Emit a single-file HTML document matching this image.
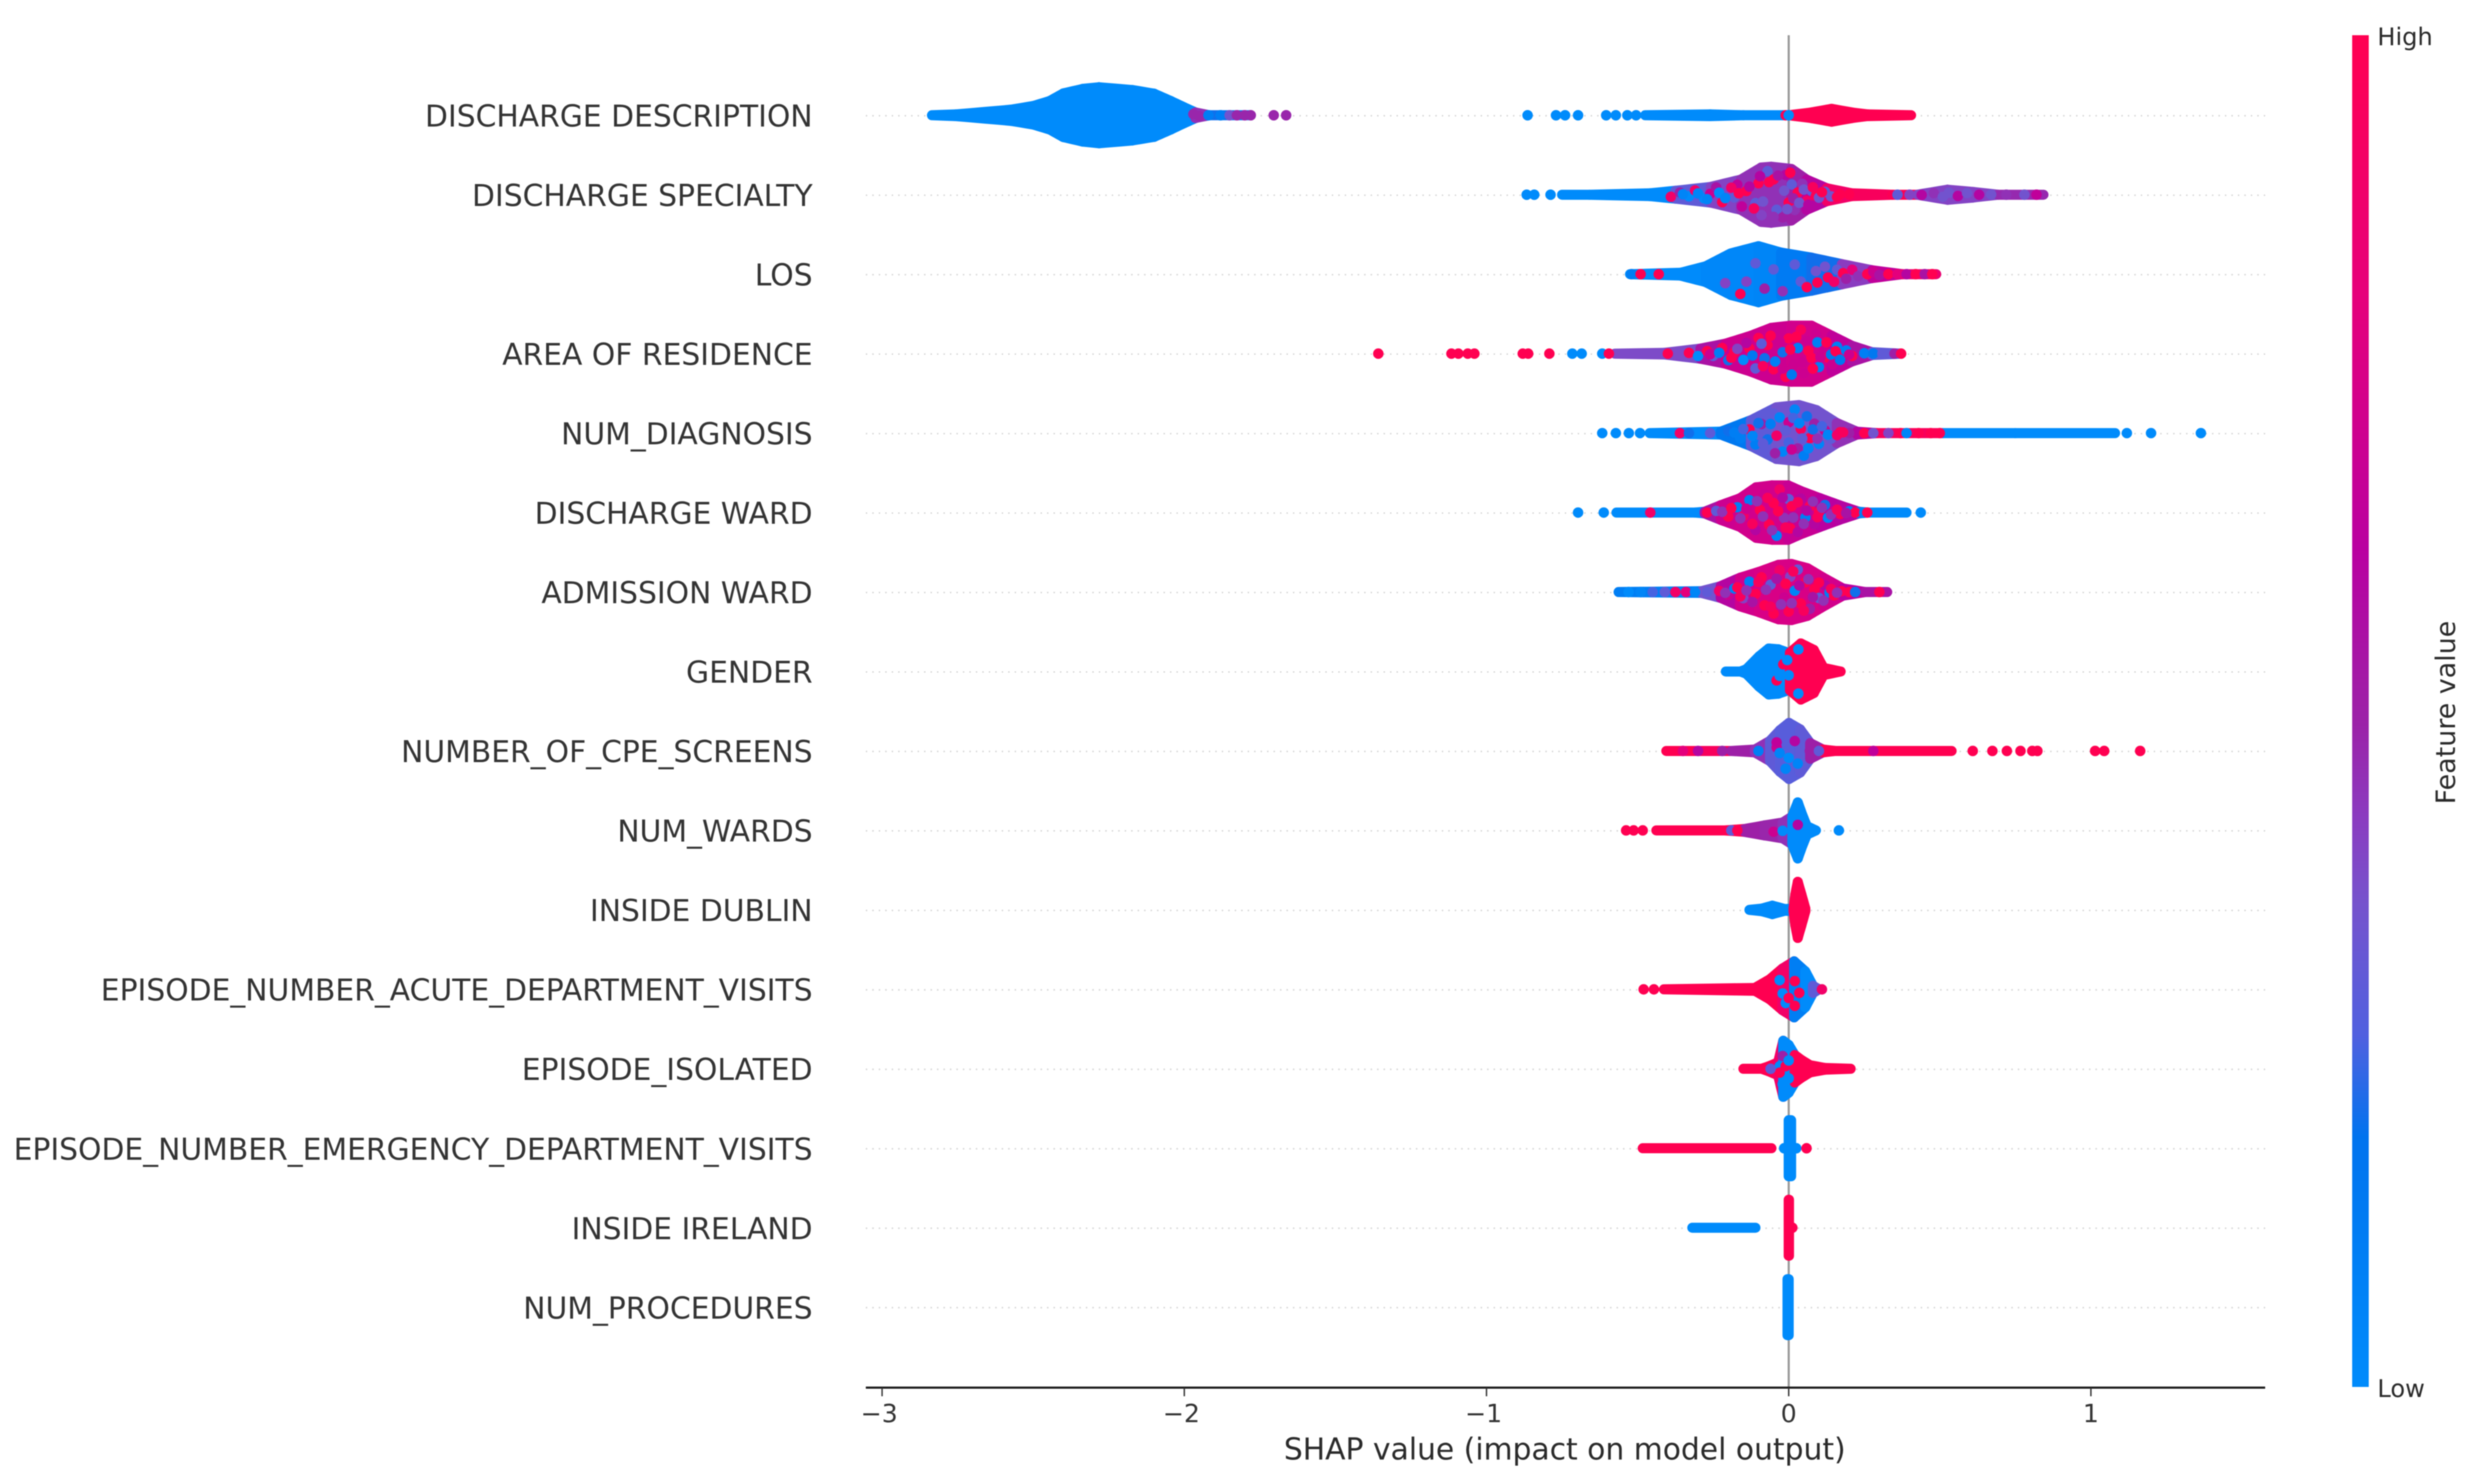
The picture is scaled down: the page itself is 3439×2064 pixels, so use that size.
<!DOCTYPE html>
<html lang="en">
<head>
<meta charset="utf-8">
<title>SHAP summary beeswarm</title>
<style>
html,body{margin:0;padding:0;background:#fff;}
svg{display:block;font-family:"DejaVu Sans","Liberation Sans",sans-serif;filter:blur(0.7px);}
</style>
</head>
<body>
<svg id="chart" xmlns="http://www.w3.org/2000/svg" width="3439" height="2064" viewBox="0 0 3439 2064">
  <rect x="0" y="0" width="3439" height="2064" fill="#ffffff"/>
  <defs>
    <linearGradient id="tone-gradient" x1="0" y1="1" x2="0" y2="0"></linearGradient>
  </defs>
  <g id="guides"></g>
  <line x1="2487.4" y1="49" x2="2487.4" y2="1930" stroke="#999999" stroke-width="3"/>
  <g id="swarms"></g>
  <g id="labels"></g>
  <line x1="1204" y1="1930" x2="3150" y2="1930" stroke="#1a1a1a" stroke-width="3"/>
  <g id="ticks"></g>
  <text x="2176" y="2030" font-size="41.4" fill="#2a2a2a" text-anchor="middle">SHAP value (impact on model output)</text>
  <rect x="3271" y="49" width="23" height="1880" fill="url(#tone-gradient)"/>
  <text x="3306" y="63" font-size="33.5" fill="#2a2a2a">High</text>
  <text x="3306" y="1943" font-size="33.5" fill="#2a2a2a">Low</text>
  <text transform="translate(3414 991) rotate(-90)" font-size="37.4" fill="#2a2a2a" text-anchor="middle">Feature value</text>
</svg>
<script>
/* ---------- categories and axis labels ---------- */
const categories = ["DISCHARGE DESCRIPTION","DISCHARGE SPECIALTY","LOS","AREA OF RESIDENCE","NUM_DIAGNOSIS","DISCHARGE WARD","ADMISSION WARD","GENDER","NUMBER_OF_CPE_SCREENS","NUM_WARDS","INSIDE DUBLIN","EPISODE_NUMBER_ACUTE_DEPARTMENT_VISITS","EPISODE_ISOLATED","EPISODE_NUMBER_EMERGENCY_DEPARTMENT_VISITS","INSIDE IRELAND","NUM_PROCEDURES"];
const tickValues = [-3,-2,-1,0,1];
const tickLabels = ["\u22123","\u22122","\u22121","0","1"];

/* ---------- colour scale: feature value (0..1) to colour ---------- */
const toneStops = [0,0.185,0.26,0.36,0.42,0.49,0.62,0.81,1];
const toneColors = [[0,139,251],[0,115,238],[80,96,223],[118,82,204],[138,60,192],[155,34,168],[185,0,160],[230,0,122],[255,0,81]];

/* ---------- swarm outlines: SHAP value, pile height (0..100), feature value ---------- */
const descLowShap = [-2.835,-2.755,-2.573,-2.5,-2.445,-2.4,-2.336,-2.282,-2.172,-2.1,-2.045,-2,-1.963,-1.917,-1.78];
const descLowPile = [0,3,20,33,51,78,94,100,90,77,51,28,10,0,0];
const descLowTone = [0,0,0,0,0,0,0,0,0,0,0,0,0.45,0.2,0.45];
const descHighShap = [-0.475,-0.26,-0.15,-0.02,0,0.075,0.142,0.209,0.26,0.405];
const descHighPile = [0,3,0,0,0,10,23,10,3,0];
const descHighTone = [0,0,0,0,1,1,1,1,1,1];

const specialtyShap = [-0.75,-0.659,-0.459,-0.375,-0.258,-0.158,-0.091,-0.058,0.009,0.059,0.126,0.209,0.343,0.426,0.526,0.61,0.693,0.843];
const specialtyPile = [0,0,5,14,28,54,97,100,92,54,23,5,0,0,18,10,0,0];
const specialtyTone = [0,0,0,0.3,0.4,0.45,0.45,0.45,0.5,0.6,0.9,0.95,0.98,0.4,0.4,0.4,0.47,0.47];

const losShap = [-0.525,-0.358,-0.275,-0.192,-0.1,-0.025,0.075,0.176,0.276,0.376,0.488];
const losPile = [0,5,28,74,100,77,59,36,14,0,0];
const losTone = [0,0,0.03,0.03,0.05,0.12,0.2,0.42,0.65,0.85,0.85];

const residenceShap = [-0.575,-0.41,-0.292,-0.208,-0.125,-0.058,0.009,0.075,0.142,0.209,0.276,0.372];
const residencePile = [0,3,18,36,64,92,100,100,64,28,5,0];
const residenceTone = [0.38,0.38,0.55,0.7,0.7,0.7,0.72,0.72,0.65,0.55,0.3,0.35];

const diagnosisShap = [-0.46,-0.225,-0.125,-0.041,0.034,0.092,0.159,0.226,0.293,0.51,0.75,1.08];
const diagnosisPile = [0,5,46,92,100,82,36,5,0,0,0,0];
const diagnosisTone = [0,0.15,0.3,0.35,0.35,0.35,0.45,0.6,0.95,0,0,0];

const dischargeWardShap = [-0.57,-0.31,-0.278,-0.225,-0.161,-0.108,-0.055,-0.002,0.04,0.104,0.168,0.232,0.263,0.39];
const dischargeWardPile = [0,0,3,26,51,90,97,97,77,51,26,3,0,0];
const dischargeWardTone = [0,0,0.55,0.7,0.72,0.72,0.72,0.68,0.68,0.62,0.6,0.1,0,0];

const admissionWardShap = [-0.563,-0.289,-0.225,-0.161,-0.098,-0.034,0.009,0.062,0.115,0.179,0.253,0.326];
const admissionWardPile = [0,3,21,51,72,97,100,85,51,13,0,0];
const admissionWardTone = [0.1,0.35,0.6,0.72,0.75,0.75,0.75,0.75,0.72,0.62,0.55,0.55];

const genderShap = [-0.208,-0.16,-0.14,-0.098,-0.066,-0.034,-0.002,0.004,0.04,0.083,0.115,0.172];
const genderPile = [0,0,8,54,82,79,67,67,100,77,13,0];
const genderTone = [0,0,0,0,0,0,0,1,1,1,1,1];

const cpeShap = [-0.405,-0.3,-0.19,-0.112,-0.062,-0.029,0.001,0.038,0.071,0.113,0.155,0.539];
const cpePile = [0,0,0,5,36,74,100,77,28,5,0,0];
const cpeTone = [1,0.95,0.5,0.45,0.3,0.28,0.28,0.3,0.5,1,1,1];

const numWardsShap = [-0.438,-0.212,-0.146,-0.079,-0.02,0.012,0.03,0.045,0.06,0.09];
const numWardsPile = [0,0,5,18,28,50,100,55,15,0];
const numWardsTone = [1,1,0.5,0.48,0.45,0,0,0,0,0];

const dublinShap = [-0.13,-0.087,-0.054,-0.012,0.016,0.022,0.03,0.042,0.055];
const dublinPile = [0,5,15,3,5,55,100,55,5];
const dublinTone = [0,0,0,0,1,1,1,1,1];

const acuteShap = [-0.413,-0.112,-0.062,-0.021,0.018,0.055,0.08,0.1];
const acutePile = [0,5,36,74,100,64,13,0];
const acuteTone = [1,1,1,0.9,0.1,0,0.3,0.3];

const isolatedShap = [-0.15,-0.09,-0.068,-0.035,-0.018,0,0.02,0.04,0.07,0.12,0.205];
const isolatedPile = [0,0,8,23,100,85,49,33,13,3,0];
const isolatedTone = [1,1,1,0.9,0,0,1,1,1,1,1];

const emergencyHighShap = [-0.483,-0.057];
const emergencyHighPile = [0,0];
const emergencyHighTone = [1,1];
const emergencyLowShap = [0,0.008];
const emergencyLowPile = [100,100];
const emergencyLowTone = [0,0];

const irelandLowShap = [-0.319,-0.11];
const irelandLowPile = [0,0];
const irelandLowTone = [0,0];
const irelandHighShap = [0,0.001];
const irelandHighPile = [100,100];
const irelandHighTone = [1,1];

const proceduresShap = [-0.004,0];
const proceduresPile = [100,100];
const proceduresTone = [0,0];

/* ---------- individually visible dots: [SHAP value, lift inside the pile (-1..1), feature value] ---------- */
const descDots = [[-1.97,0.3,0.48],[-1.95,-0.4,0.48],[-1.92,0,0.1],[-1.88,0,0.1],[-1.85,0,0.35],[-1.826,0,0.48],[-1.8,0,0.48],[-1.78,0,0.48],[-1.704,0,0.48],[-1.663,0,0.48],[-0.864,0,0],[-0.77,0,0],[-0.74,0,0],[-0.697,0,0],[-0.604,0,0],[-0.572,0,0],[-0.534,0,0],[-0.505,0,0],[-0.01,0,1],[0,0,0]];
const specialtyDots = [[-0.867,0,0],[-0.842,0,0],[-0.788,0,0],[-0.42,0.2,0],[-0.39,-0.6,0.9],[-0.36,0.5,0.5],[-0.33,-0.3,0],[-0.31,0.7,0.9],[-0.28,-0.5,0],[-0.26,0.1,0.7],[-0.24,0.8,0.55],[-0.22,-0.7,1],[-0.2,0.3,0.4],[-0.18,-0.2,0.3],[-0.17,0.7,0.65],[-0.15,-0.6,0.45],[-0.14,0.2,1],[-0.125,0.8,0.45],[-0.11,-0.35,0.3],[-0.1,0.45,1],[-0.09,-0.75,0.4],[-0.08,0.1,0.45],[-0.07,0.85,0.3],[-0.06,-0.15,0.45],[-0.05,0.55,1],[-0.04,-0.55,0.3],[-0.03,0.25,0.45],[-0.02,-0.85,0.5],[-0.01,0.75,0.6],[0,-0.3,1],[0.01,0.4,0.3],[0.02,-0.65,0.45],[0.03,0.1,1],[0.045,0.6,0.45],[0.06,-0.4,0.9],[0.075,0.3,0.3],[0.09,-0.1,1],[0.12,0.4,0.3],[0.14,-0.3,0.35],[0.17,0.1,1],[0.36,0,0.3],[0.4,0.2,0.4],[0.44,-0.3,0.6],[0.48,0.6,0.45],[0.51,-0.5,0.35],[0.53,0.4,0.35],[0.56,-0.3,0.6],[0.59,0.5,0.35],[0.63,0,0.6],[0.67,0.3,0.35],[0.72,0,0.45],[0.78,0,0.35],[0.82,0,0.65]];
const specialtyMoreDots = [[-0.35,0.1,0.05],[-0.3,0.2,0.05],[-0.27,-0.6,0.05],[-0.23,0.2,0],[-0.21,-0.3,0.05],[-0.19,0.55,0.9],[-0.165,0.1,1],[-0.155,-0.75,0.65],[-0.13,0.4,0.6],[-0.115,-0.6,0.95],[-0.095,0.7,0.6],[-0.085,-0.25,0.35],[-0.065,0.45,1],[-0.05,-0.8,0.45],[-0.035,0.7,0.55],[-0.015,0.15,0.35],[-0.005,-0.55,0.35],[0.005,0.85,1],[0.015,-0.15,0.5],[0.035,-0.4,0.35],[0.05,0.3,0.35],[0.065,-0.7,0.6],[0.08,0.6,0.95],[0.1,-0.3,0.35],[0.11,0.3,1],[0.16,-0.5,1],[0.2,0.2,1],[0.24,0,0.95]];
const losDots = [[-0.52,0,0.1],[-0.49,0,1],[-0.43,0,1],[-0.21,-0.5,0.4],[-0.16,-0.85,1],[-0.14,-0.3,0.4],[-0.11,0.4,0.3],[-0.08,-0.55,0.5],[-0.05,0.2,0.3],[-0.02,-0.8,0.45],[0.02,0.5,0.3],[0.04,-0.4,0.3],[0.06,-0.75,1],[0.09,0.2,0.35],[0.095,-0.55,1],[0.12,0.55,0.35],[0.13,-0.25,1],[0.15,-0.65,0.9],[0.16,0.4,0.3],[0.18,0.1,1],[0.19,-0.5,0.5],[0.21,0.55,0.8],[0.23,-0.3,0.45],[0.26,0,1],[0.28,0.6,0.7],[0.3,-0.3,0.55],[0.33,0,1],[0.36,0.2,0.8],[0.39,0,0.6],[0.42,0,1],[0.45,0,0.55],[0.475,0,1]];
const residenceDots = [[-1.358,0,1],[-1.116,0,1],[-1.093,0,1],[-1.062,0,1],[-1.04,0,1],[-0.88,0,1],[-0.862,0,1],[-0.792,0,1],[-0.716,0,0],[-0.685,0,0],[-0.617,0,0],[-0.595,0,1],[-0.4,0,1],[-0.33,0.2,1],[-0.3,-0.5,0],[-0.27,0.4,1],[-0.25,-0.3,0.3],[-0.22,0.6,1],[-0.2,-0.6,0.2],[-0.18,0.1,1],[-0.16,0.7,0.7],[-0.15,-0.4,0],[-0.13,0.3,1],[-0.11,-0.75,0.3],[-0.1,0.75,1],[-0.08,-0.2,0.2],[-0.07,0.35,1],[-0.05,-0.6,1],[-0.04,0.85,0.7],[-0.02,0.05,0.2],[-0.01,-0.85,1],[0,0.55,1],[0.015,-0.4,0.7],[0.03,0.2,0.1],[0.04,0.85,0.95],[0.05,-0.7,0.7],[0.06,0.45,0.7],[0.075,-0.15,1],[0.09,0.75,0.7],[0.1,-0.55,0.1],[0.115,0.25,0.7],[0.13,-0.2,1],[0.145,-0.6,0.7],[0.16,0.45,0.1],[0.175,-0.1,0.8],[0.19,0.3,0.1],[0.21,-0.3,1],[0.25,0.1,0.1],[0.28,0,0.15],[0.31,0,0.3],[0.35,0,0.5],[0.372,0,1]];
const residenceMoreDots = [[-0.26,-0.1,0.7],[-0.23,0.1,0.1],[-0.19,-0.35,1],[-0.17,0.35,0.4],[-0.14,0.65,0.6],[-0.12,-0.1,0.15],[-0.09,0.45,0.3],[-0.085,-0.55,0.95],[-0.06,0.7,1],[-0.045,-0.3,0.1],[-0.03,0.45,0.7],[-0.02,-0.55,0.7],[0.005,0.15,1],[0.01,-0.75,0.15],[0.025,0.6,1],[0.045,-0.3,0.7],[0.065,0.1,1],[0.08,-0.55,1],[0.095,0.45,0.1],[0.105,-0.15,0.7],[0.125,0.55,1],[0.14,-0.05,0.15],[0.155,0.15,1],[0.17,-0.45,0.15],[0.2,-0.1,0.7]];
const diagnosisDots = [[-0.617,0,0],[-0.572,0,0],[-0.529,0,0],[-0.492,0,0],[-0.36,0,0.9],[-0.33,0,0.2],[-0.26,0,0.3],[-0.2,0.5,0.2],[-0.16,-0.6,0.1],[-0.13,0.3,1],[-0.11,-0.75,0.1],[-0.09,0.5,0.5],[-0.07,-0.3,0.2],[-0.05,0.8,0.3],[-0.04,-0.1,0.9],[-0.02,-0.7,0.05],[0,0.4,0.7],[0,-0.35,0.25],[0.02,0.85,0.05],[0.03,-0.55,0.5],[0.04,0.15,0.95],[0.05,-0.85,0.1],[0.06,0.65,0.2],[0.07,-0.2,1],[0.085,0.4,0.5],[0.1,-0.5,0.05],[0.12,0.15,0.7],[0.14,-0.4,0.3],[0.17,0.1,1],[0.2,0,0.5],[0.25,0,1],[0.28,0,0.35],[0.33,0,0.4],[0.37,0,1],[0.39,0,0.05],[0.43,0,1],[0.47,0,1],[0.5,0,1],[1.119,0,0],[1.199,0,0],[1.364,0,0]];
const diagnosisMoreDots = [[-0.18,0.1,0.1],[-0.15,0.4,0.25],[-0.12,-0.2,0.05],[-0.1,0.6,0.2],[-0.085,-0.55,0.3],[-0.06,0.4,0.1],[-0.045,-0.8,0.5],[-0.03,0.6,0.05],[-0.01,0.1,0.3],[0.01,-0.6,0.7],[0.015,0.55,0.25],[0.035,0.35,0.05],[0.045,-0.2,0.3],[0.065,-0.6,0.05],[0.08,0.15,0.2],[0.095,-0.25,0.45],[0.11,0.35,0.25],[0.13,-0.1,0.05],[0.16,-0.2,0.9],[0.18,0.1,0.95]];
const dischargeWardDots = [[-0.697,0,0],[-0.612,0,0],[-0.458,0,0.9],[-0.27,0,1],[-0.24,0.3,0.3],[-0.2,-0.4,1],[-0.17,0.4,0.1],[-0.15,-0.2,0.9],[-0.13,0.6,0.1],[-0.11,-0.7,0.6],[-0.095,0.1,1],[-0.08,0.7,0.7],[-0.065,-0.45,1],[-0.05,0.35,1],[-0.04,-0.85,0.05],[-0.03,0.85,0.9],[-0.015,-0.2,0.45],[0,0.5,0.3],[0.005,-0.6,1],[0.02,0.15,0.7],[0.03,-0.85,0.6],[0.04,0.65,0.6],[0.055,-0.25,0.1],[0.07,0.35,1],[0.085,-0.7,0.6],[0.1,0.05,1],[0.12,0.6,0.2],[0.13,-0.45,0.05],[0.15,0.1,0.7],[0.17,-0.2,1],[0.2,0.3,0.1],[0.22,0,1],[0.25,0,0.1],[0.26,0,1],[0.437,0,0]];
const dischargeWardMoreDots = [[-0.22,0.1,0.45],[-0.19,0.4,1],[-0.16,-0.4,0.45],[-0.14,0.2,0.7],[-0.12,-0.5,0.95],[-0.105,0.45,0.45],[-0.085,-0.15,0.45],[-0.07,0.55,0.95],[-0.055,-0.65,0.45],[-0.035,0.05,1],[-0.02,0.55,0.6],[-0.01,-0.55,0.95],[0.01,0.25,1],[0.015,-0.2,0.45],[0.03,0.45,0.95],[0.05,-0.55,0.45],[0.06,0.1,0.6],[0.08,0.65,0.45],[0.095,-0.3,0.95],[0.11,0.35,0.45],[0.14,-0.2,0.45],[0.16,0.35,0.95],[0.19,-0.1,0.55]];
const admissionWardDots = [[-0.53,0,0],[-0.49,0,0.05],[-0.45,0,0.25],[-0.41,0,0.3],[-0.375,0,0.9],[-0.34,0,0.8],[-0.31,0,0.05],[-0.27,0,0.3],[-0.23,0.2,0.9],[-0.2,-0.3,0.7],[-0.18,0.3,0.1],[-0.15,-0.4,0.4],[-0.13,0.6,0.1],[-0.11,-0.1,1],[-0.09,0.7,1],[-0.08,-0.6,1],[-0.06,0.3,0.3],[-0.05,-0.85,1],[-0.03,0.8,0.9],[-0.015,-0.2,0.7],[0,-0.7,1],[0.005,0.55,0.4],[0.02,0.05,0.05],[0.03,0.85,0.3],[0.04,-0.45,1],[0.055,0.4,1],[0.07,-0.75,0.5],[0.085,0.15,1],[0.1,-0.35,0.3],[0.12,0.5,0.6],[0.135,-0.05,0.1],[0.15,-0.4,1],[0.175,0.2,1],[0.2,0,1],[0.22,0,0.2],[0.3,0,1]];
const admissionWardMoreDots = [[-0.21,-0.1,0.45],[-0.17,0.35,1],[-0.16,-0.3,0.95],[-0.14,0.1,0.45],[-0.12,-0.55,0.55],[-0.1,0.5,0.95],[-0.075,0.1,0.45],[-0.06,-0.6,0.95],[-0.04,0.5,0.55],[-0.025,-0.45,0.45],[-0.01,0.3,1],[0.01,-0.4,0.45],[0.015,0.75,0.95],[0.035,0.25,0.6],[0.05,-0.75,0.95],[0.065,0.55,0.45],[0.08,-0.25,0.55],[0.1,0.55,1],[0.115,-0.6,0.45],[0.14,0.3,0.95],[0.16,-0.1,0.45]];
const genderDots = [[-0.018,0.35,1],[-0.04,-0.4,1],[-0.03,-0.2,0],[0.032,0.85,0],[0.032,-0.85,0],[0,-0.2,0],[-0.005,0.6,0]];
const cpeDots = [[-0.35,0,0.8],[-0.3,0,0.6],[-0.22,0,0.5],[-0.1,0,0.1],[-0.04,0.2,0.7],[-0.03,-0.1,0.05],[-0.04,0.5,0.65],[0,-0.25,0],[0.02,0.4,0.6],[-0.01,-0.7,0.05],[0.03,-0.55,0.05],[0.07,0,0.5],[0.1,0,0.3],[0.28,0,0.65],[0.609,0,1],[0.674,0,1],[0.722,0,1],[0.767,0,1],[0.806,0,1],[0.823,0,1],[1.014,0,1],[1.044,0,1],[1.163,0,1]];
const numWardsDots = [[-0.538,0,1],[-0.513,0,1],[-0.483,0,1],[-0.19,0,0.3],[-0.17,0,1],[-0.05,-0.2,0.7],[-0.02,-0.05,0],[0.03,0.2,0.6],[0.166,0,0]];
const dublinDots = [[0.02,-0.1,1]];
const acuteDots = [[-0.48,0,1],[-0.446,0,1],[-0.03,0.5,0],[-0.02,-0.2,0],[-0.01,-0.6,0],[0,-0.35,1],[0.02,-0.6,1],[0.02,0.3,1],[0.035,-0.15,1],[0.1,0,0.3],[0.11,0,0.9]];
const isolatedDots = [[-0.03,0.2,0],[-0.03,-0.3,1],[-0.02,0.5,0.5],[-0.02,-0.6,0],[-0.01,0.1,1],[0,0.35,0],[0,-0.4,0],[-0.06,0,0.3]];
const emergencyDots = [[-0.015,0,0],[0.025,0,0],[0.059,0,1]];
const irelandDots = [[0.012,0,1]];

/* ---------- wiring: which arrays belong to which row ---------- */
const swarmRows = [0,0,1,2,3,4,5,6,7,8,9,10,11,12,13,13,14,14,15];
const swarmShap = [descLowShap,descHighShap,specialtyShap,losShap,residenceShap,diagnosisShap,dischargeWardShap,admissionWardShap,genderShap,cpeShap,numWardsShap,dublinShap,acuteShap,isolatedShap,emergencyHighShap,emergencyLowShap,irelandLowShap,irelandHighShap,proceduresShap];
const swarmPile = [descLowPile,descHighPile,specialtyPile,losPile,residencePile,diagnosisPile,dischargeWardPile,admissionWardPile,genderPile,cpePile,numWardsPile,dublinPile,acutePile,isolatedPile,emergencyHighPile,emergencyLowPile,irelandLowPile,irelandHighPile,proceduresPile];
const swarmTone = [descLowTone,descHighTone,specialtyTone,losTone,residenceTone,diagnosisTone,dischargeWardTone,admissionWardTone,genderTone,cpeTone,numWardsTone,dublinTone,acuteTone,isolatedTone,emergencyHighTone,emergencyLowTone,irelandLowTone,irelandHighTone,proceduresTone];
const dotRows = [0,1,1,2,3,3,4,4,5,5,6,6,7,8,9,10,11,12,13,14];
const dotSets = [descDots,specialtyDots,specialtyMoreDots,losDots,residenceDots,residenceMoreDots,diagnosisDots,diagnosisMoreDots,dischargeWardDots,dischargeWardMoreDots,admissionWardDots,admissionWardMoreDots,genderDots,cpeDots,numWardsDots,dublinDots,acuteDots,isolatedDots,emergencyDots,irelandDots];

/* ---------- axis functions ---------- */
function xScale(v){ return 2487.4 + 420.25 * v; }
function yScale(i){ return 161 + 110.52 * i; }
function pileScale(p){ return p * 0.39; }
function toneColor(t){
  const c = Math.max(0, Math.min(1, t));
  let k = 0;
  while (k < toneStops.length - 2 && c > toneStops[k + 1]) k++;
  const f = (c - toneStops[k]) / (toneStops[k + 1] - toneStops[k]);
  const a = toneColors[k], b = toneColors[k + 1];
  return 'rgb(' + Math.round(a[0] + (b[0] - a[0]) * f) + ',' + Math.round(a[1] + (b[1] - a[1]) * f) + ',' + Math.round(a[2] + (b[2] - a[2]) * f) + ')';
}
function pileAt(row, v){
  for (let s = 0; s < swarmRows.length; s++) {
    if (swarmRows[s] !== row) continue;
    const xs = swarmShap[s], ps = swarmPile[s];
    for (let i = 0; i < xs.length - 1; i++) {
      if (v >= xs[i] && v <= xs[i + 1]) {
        const span = xs[i + 1] - xs[i];
        const f = span > 0 ? (v - xs[i]) / span : 0;
        return ps[i] + (ps[i + 1] - ps[i]) * f;
      }
    }
  }
  return 0;
}

const NS = 'http://www.w3.org/2000/svg';
function make(tag, parent, attrs){
  const el = document.createElementNS(NS, tag);
  for (const key in attrs) el.setAttribute(key, attrs[key]);
  parent.appendChild(el);
  return el;
}

/* colourbar gradient */
const gradient = document.getElementById('tone-gradient');
toneStops.forEach(function(stop){
  make('stop', gradient, {offset: stop, 'stop-color': toneColor(stop)});
});

/* row guides and feature labels */
const guideLayer = document.getElementById('guides');
const labelLayer = document.getElementById('labels');
categories.forEach(function(name, i){
  const guide = make('line', guideLayer, {x1: 1204, x2: 3150, y1: yScale(i), y2: yScale(i), stroke: '#d4d4d4', 'stroke-width': 2, 'stroke-dasharray': '2 7'});
  
  
  const label = make('text', labelLayer, {x: 1130, y: yScale(i) + 15, 'font-size': 41.4, fill: '#333333', 'text-anchor': 'end'});
  label.textContent = name;
  
  
});

/* x ticks */
const tickLayer = document.getElementById('ticks');
tickValues.forEach(function(value, i){
  const mark = make('line', tickLayer, {x1: xScale(value), x2: xScale(value), y1: 1930, y2: 1942, stroke: '#333333', 'stroke-width': 2});
  
  
  const text = make('text', tickLayer, {x: xScale(value) - (value < 0 ? 4 : 0), y: 1978, 'font-size': 35, fill: '#333333', 'text-anchor': 'middle'});
  text.textContent = tickLabels[i];
  
  
});

/* swarm outlines */
const swarmLayer = document.getElementById('swarms');
swarmRows.forEach(function(row, s){
  const xs = swarmShap[s], ps = swarmPile[s], ts = swarmTone[s];
  const cy = yScale(row) - 0.7;
  for (let i = 0; i < xs.length - 1; i++) {
    const x0 = xScale(xs[i]), x1 = xScale(xs[i + 1]);
    const h0 = pileScale(ps[i]), h1 = pileScale(ps[i + 1]);
    const color = toneColor(ts[i]);
    const slice = make('polygon', swarmLayer, {
      points: x0 + ',' + (cy - h0) + ' ' + x1 + ',' + (cy - h1) + ' ' + x1 + ',' + (cy + h1) + ' ' + x0 + ',' + (cy + h0),
      fill: color, stroke: color, 'stroke-width': 14, 'stroke-linejoin': 'round'
    });
    
    
  }
});

/* individual dots */
dotRows.forEach(function(row, s){
  const cy = yScale(row) - 0.7;
  dotSets[s].forEach(function(d){
    const dot = make('circle', swarmLayer, {
      cx: xScale(d[0]),
      cy: cy - d[1] * pileScale(pileAt(row, d[0])),
      r: 7.3,
      fill: toneColor(d[2])
    });
    
    
  });
});
</script>
</body>
</html>
